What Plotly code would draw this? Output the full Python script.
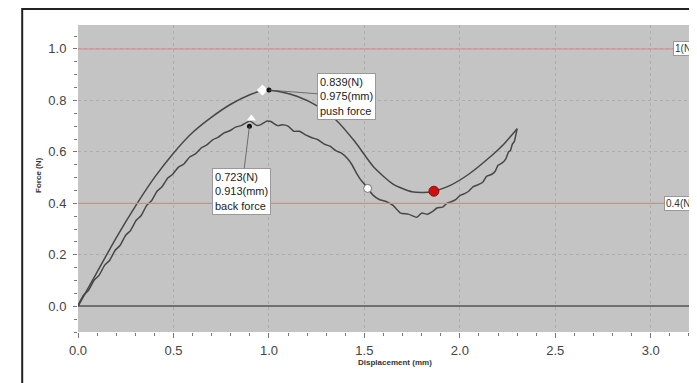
import plotly.graph_objects as go

# push force curve (upper, smooth)
push_x = [0.0, 0.1, 0.2, 0.31, 0.4, 0.5, 0.6, 0.7, 0.8, 0.9, 0.975, 1.07, 1.15, 1.25, 1.35,
          1.45, 1.55, 1.65, 1.75, 1.85, 1.95, 2.05, 2.15, 2.23, 2.30]
push_y = [0.0, 0.133, 0.266, 0.40, 0.50, 0.595, 0.675, 0.735, 0.785, 0.822, 0.839, 0.832, 0.815,
          0.78, 0.725, 0.64, 0.54, 0.475, 0.445, 0.444, 0.47, 0.515, 0.575, 0.63, 0.69]

# back force curve (lower, wavy)
back_x = [0.000, 0.030, 0.055, 0.085, 0.110, 0.140, 0.165, 0.195, 0.220, 0.250, 0.275, 0.305,
          0.330, 0.360, 0.385, 0.415, 0.440, 0.470, 0.495, 0.525, 0.555, 0.585, 0.615, 0.645,
          0.675, 0.705, 0.735, 0.765, 0.795, 0.825, 0.855, 0.900, 0.935, 0.955, 0.990, 1.010,
          1.045, 1.070, 1.100, 1.130, 1.160, 1.195, 1.225, 1.255, 1.290, 1.320, 1.350, 1.380,
          1.410, 1.435, 1.460, 1.480, 1.500, 1.517, 1.545, 1.580, 1.610, 1.650, 1.690, 1.730,
          1.775, 1.800, 1.830, 1.860, 1.880, 1.910, 1.935, 1.955, 1.980, 2.000, 2.025, 2.045,
          2.070, 2.095, 2.120, 2.140, 2.165, 2.185, 2.200, 2.220, 2.240, 2.255, 2.265, 2.275,
          2.285, 2.300]
back_y = [0.004, 0.044, 0.062, 0.102, 0.120, 0.160, 0.178, 0.218, 0.236, 0.276, 0.294, 0.334,
          0.352, 0.392, 0.410, 0.448, 0.464, 0.498, 0.512, 0.540, 0.553, 0.580, 0.592, 0.615,
          0.627, 0.647, 0.657, 0.674, 0.682, 0.696, 0.702, 0.720, 0.703, 0.705, 0.720, 0.718,
          0.702, 0.705, 0.700, 0.680, 0.680, 0.665, 0.655, 0.648, 0.630, 0.622, 0.605, 0.595,
          0.575, 0.550, 0.515, 0.492, 0.475, 0.458, 0.432, 0.414, 0.408, 0.392, 0.362, 0.358,
          0.346, 0.362, 0.358, 0.370, 0.382, 0.385, 0.402, 0.406, 0.415, 0.430, 0.438, 0.446,
          0.465, 0.472, 0.482, 0.505, 0.512, 0.525, 0.548, 0.556, 0.572, 0.600, 0.606, 0.630,
          0.640, 0.690]

# limit lines
limit_values = [1.0, 0.4]
limit_labels = ["1(N)", "0.4(N)"]
limit_label_x = [3.117, 3.07]

# peak markers
peak_push = (0.975, 0.839)
peak_back = (0.913, 0.723)
white_marks_x = [0.966]
white_marks_y = [0.84]
back_open_x = [0.908]
back_open_y = [0.73]
black_dots_x = [1.0, 0.898]
black_dots_y = [0.84, 0.70]
circle_white = (1.517, 0.458)
circle_red = (1.864, 0.447)

line_col = "#474747"
font = "Liberation Sans, Arial, sans-serif"

fig = go.Figure()

fig.add_trace(go.Scatter(x=push_x, y=push_y, mode="lines",
                         line=dict(color=line_col, width=1.5, shape="spline", smoothing=0.6)))
fig.add_trace(go.Scatter(x=back_x, y=back_y, mode="lines",
                         line=dict(color=line_col, width=1.5, shape="spline", smoothing=0.5)))

# markers
fig.add_trace(go.Scatter(x=white_marks_x, y=white_marks_y, mode="markers",
                         marker=dict(symbol="diamond", size=9, color="white",
                                     line=dict(color="#bbbbbb", width=0.5))))
fig.add_trace(go.Scatter(x=back_open_x, y=back_open_y, mode="markers",
                         marker=dict(symbol="triangle-up", size=9, color="white",
                                     line=dict(color="#bbbbbb", width=0.5))))
fig.add_trace(go.Scatter(x=black_dots_x, y=black_dots_y, mode="markers",
                         marker=dict(size=5, color="#111111")))
fig.add_trace(go.Scatter(x=[circle_white[0]], y=[circle_white[1]], mode="markers",
                         marker=dict(size=8, color="white", line=dict(color="#555555", width=0.8))))
fig.add_trace(go.Scatter(x=[circle_red[0]], y=[circle_red[1]], mode="markers",
                         marker=dict(size=10, color="#d01010", line=dict(color="#901010", width=1))))

# red limit lines with their labels
for val, lab, lx in zip(limit_values, limit_labels, limit_label_x):
    fig.add_hline(y=val, line=dict(color="#d48a8a", width=1.1), layer="above")
    fig.add_annotation(x=lx, y=val, text=lab, showarrow=False, xanchor="left",
                       font=dict(family=font, size=10, color="#333333"),
                       bgcolor="white", bordercolor="#999999", borderwidth=1, borderpad=1)

# callout boxes
fig.add_annotation(x=black_dots_x[0], y=black_dots_y[0], ax=1.406, ay=0.817,
                   axref="x", ayref="y", showarrow=True, arrowhead=0, arrowwidth=0.8,
                   arrowcolor="#555555", align="left",
                   text=f"{peak_push[1]:.3f}(N)<br>{peak_push[0]:.3f}(mm)<br>push force",
                   font=dict(family=font, size=11, color="#222222"),
                   bgcolor="white", bordercolor="#999999", borderwidth=1, borderpad=2)
fig.add_annotation(x=black_dots_x[1], y=black_dots_y[1], ax=0.856, ay=0.447,
                   axref="x", ayref="y", showarrow=True, arrowhead=0, arrowwidth=0.8,
                   arrowcolor="#555555", align="left",
                   text=f"{peak_back[1]:.3f}(N)<br>{peak_back[0]:.3f}(mm)<br>back force",
                   font=dict(family=font, size=11, color="#222222"),
                   bgcolor="white", bordercolor="#999999", borderwidth=1, borderpad=2)

# axis titles
fig.add_annotation(xref="paper", yref="paper", x=-0.063, y=0.51, text="<b>Force (N)</b>",
                   textangle=-90, showarrow=False, xanchor="center", yanchor="middle",
                   font=dict(family=font, size=8, color="#333333"))
fig.add_annotation(xref="paper", yref="paper", x=0.505, y=-0.098, text="<b>Displacement (mm)</b>",
                   showarrow=False, xanchor="center", yanchor="middle",
                   font=dict(family=font, size=8, color="#333333"))

# outer frame
fig.add_shape(type="rect", xref="paper", yref="paper", x0=-0.089, x1=1.1, y0=-0.3, y1=1.052,
              line=dict(color="#222222", width=2), layer="above")

# page body keeps an 8px margin; the figure runs past the window edge like the cropped original
fig.update_layout(
    width=697, height=383,
    margin=dict(l=70, r=0, t=17, b=59),
    paper_bgcolor="white", plot_bgcolor="#c4c4c4",
    showlegend=False,
    font=dict(family=font, size=13, color="#444444"),
)
fig.update_xaxes(range=[0, 3.284], dtick=0.5, tickformat=".1f", ticks="outside", ticklen=5,
                 tickcolor="#777777", showgrid=True, gridcolor="#adadad", griddash="dot",
                 gridwidth=1, zeroline=False, showline=False, ticklabelstandoff=1,
                 minor=dict(dtick=0.1, ticks="outside", ticklen=3, tickcolor="#777777", showgrid=False))
fig.update_yaxes(range=[-0.1, 1.093], dtick=0.2, tickformat=".1f", ticks="outside", ticklen=4,
                 tickcolor="#777777", showgrid=True, gridcolor="#adadad", griddash="dot",
                 gridwidth=1, zeroline=True, zerolinecolor="#707070", zerolinewidth=1.5,
                 showline=False, ticklabelstandoff=4,
                 minor=dict(dtick=0.05, ticks="outside", ticklen=3, tickcolor="#777777", showgrid=False))

fig.write_html("out.html")
